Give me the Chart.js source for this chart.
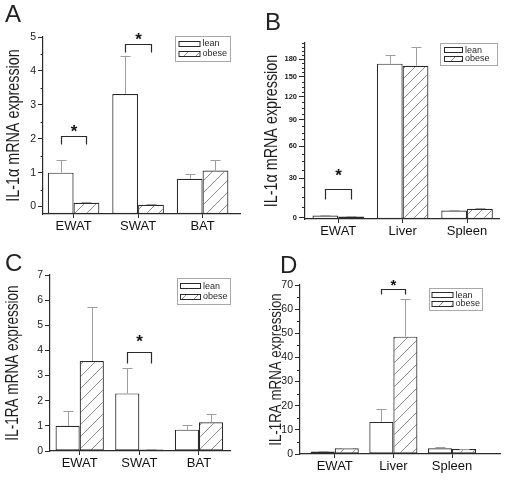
<!DOCTYPE html>
<html>
<head>
<meta charset="utf-8">
<script src="https://cdn.jsdelivr.net/npm/chart.js@4.4.0/dist/chart.umd.min.js"></script>
<style>
  body { margin: 0; background: #fff; }
  #wrap { position: relative; width: 505px; height: 482px; background: #fff; overflow: hidden; }
  #wrap canvas { position: absolute; }
  .letter { position: absolute; font: 24px "Liberation Sans", Arial, sans-serif; line-height: 24px; color: #222; }
</style>
</head>
<body>
<div id="wrap">
  <canvas id="chartA" width="252" height="241" style="left:0;top:0"></canvas>
  <canvas id="chartB" width="253" height="241" style="left:252px;top:0"></canvas>
  <canvas id="chartC" width="252" height="241" style="left:0;top:241px"></canvas>
  <canvas id="chartD" width="253" height="241" style="left:252px;top:241px"></canvas>
  <div class="letter" style="left:5px;top:2px">A</div>
  <div class="letter" style="left:265px;top:10px">B</div>
  <div class="letter" style="left:5px;top:251px">C</div>
  <div class="letter" style="left:280px;top:253px">D</div>
</div>
<script>
// ---- data ----
const fatTissues = ['EWAT', 'SWAT', 'BAT'];
const organTissues = ['EWAT', 'Liver', 'Spleen'];
const groupNames = ['lean', 'obese'];

// A: IL-1a, fat depots
const leanA = [1.0, 3.32, 0.82];
const leanErrA = [1.38, 4.45, 0.95];
const obeseA = [0.11, 0.05, 1.06];
const obeseErrA = [0.14, 0.07, 1.36];
const sigA = [[0, 2.07], [1, 4.8]];
const yTicksA = [0, 1, 2, 3, 4, 5];

// B: IL-1a, organs
const leanB = [1.3, 172, 4.8];
const leanErrB = [1.9, 186.7, 5.2];
const obeseB = [0.6, 168.5, 6.0];
const obeseErrB = [0.8, 202, 6.4];
const sigB = [[0, 21]];
const yTicksB = [0, 30, 60, 90, 120, 150, 180];

// C: IL-1RA, fat depots
const leanC = [1.0, 2.29, 0.85];
const leanErrC = [1.59, 3.31, 1.03];
const obeseC = [3.58, 0.06, 1.14];
const obeseErrC = [5.74, 0.07, 1.46];
const sigC = [[1, 3.93]];
const yTicksC = [0, 1, 2, 3, 4, 5, 6, 7];

// D: IL-1RA, organs
const leanD = [1.0, 13.3, 2.4];
const leanErrD = [1.2, 18.5, 2.9];
const obeseD = [2.4, 48.6, 2.1];
const obeseErrD = [2.6, 64.2, 2.2];
const sigD = [[1, 68.4]];
const yTicksD = [0, 10, 20, 30, 40, 50, 60, 70];

// ---- styling ----
const FONT = '"Liberation Sans", Arial, sans-serif';
const INK = '#2a2a2a';
const ERR = '#9e9e9e';

// panel B uses a compressed (offset log) value axis like the original
const B_AXIS_K = 110;
class OffsetLogScale extends Chart.LinearScale {
    static id = 'offsetLog';
    static defaults = {};
    tf(v) { return Math.log10((v + B_AXIS_K) / B_AXIS_K); }
    getPixelForValue(v) {
        const a = this.tf(this.min), b = this.tf(this.max);
        return this.getPixelForDecimal((this.tf(v) - a) / (b - a));
    }
    getValueForPixel(p) {
        const a = this.tf(this.min), b = this.tf(this.max);
        const d = this.getDecimalForPixel(p);
        return B_AXIS_K * Math.pow(10, a + d * (b - a)) - B_AXIS_K;
    }
}
Chart.register(OffsetLogScale);

// error bars, significance brackets, minor ticks, y title and the boxed legend
function decoPlugin(p) {
    return {
        id: 'deco',
        afterDatasetsDraw(chart) {
            const ctx = chart.ctx;
            const ys = chart.scales.y;
            ctx.save();
            // error bars (upper only)
            ctx.strokeStyle = ERR;
            ctx.lineWidth = 1;
            [p.leanErr, p.obeseErr].forEach((errs, di) => {
                chart.getDatasetMeta(di).data.forEach((bar, i) => {
                    const x = Math.round(bar.x) + 0.5;
                    const yTop = Math.round(ys.getPixelForValue(errs[i])) + 0.5;
                    ctx.beginPath();
                    ctx.moveTo(x, bar.y);
                    ctx.lineTo(x, yTop);
                    ctx.moveTo(x - 5, yTop);
                    ctx.lineTo(x + 5, yTop);
                    ctx.stroke();
                });
            });
            // brackets with stars
            const m0 = chart.getDatasetMeta(0), m1 = chart.getDatasetMeta(1);
            ctx.strokeStyle = INK;
            ctx.lineWidth = 1.2;
            p.sig.forEach(([i, v]) => {
                const x1 = Math.round(m0.data[i].x) + 0.5;
                const x2 = Math.round(m1.data[i].x) + 0.5;
                const y = Math.round(ys.getPixelForValue(v)) + 0.5;
                ctx.beginPath();
                ctx.moveTo(x1, y + p.leg);
                ctx.lineTo(x1, y);
                ctx.lineTo(x2, y);
                ctx.lineTo(x2, y + p.leg);
                ctx.stroke();
                ctx.fillStyle = '#111';
                ctx.font = 'bold ' + p.starSize + 'px ' + FONT;
                ctx.textAlign = 'center';
                ctx.textBaseline = 'alphabetic';
                const m = ctx.measureText('*');
                const mid = (-m.actualBoundingBoxAscent + m.actualBoundingBoxDescent) / 2;
                ctx.fillText('*', (x1 + x2) / 2, y - p.starGap - mid);
            });
            ctx.restore();
        },
        afterDraw(chart) {
            const ctx = chart.ctx;
            const ys = chart.scales.y;
            const area = chart.chartArea;
            ctx.save();
            // minor ticks
            if (p.minorStep) {
                ctx.strokeStyle = INK;
                ctx.lineWidth = 1;
                ctx.beginPath();
                for (let k = Math.ceil(ys.min / p.minorStep); k * p.minorStep <= ys.max + 1e-9; k++) {
                    const v = k * p.minorStep;
                    if (p.yTicks.some(t => Math.abs(t - v) < 1e-9)) continue;
                    const py = Math.round(ys.getPixelForValue(v)) + 0.5;
                    ctx.moveTo(area.left - p.minorLen, py);
                    ctx.lineTo(area.left, py);
                }
                ctx.stroke();
            }
            // y title, set in a narrow face like the original
            ctx.save();
            ctx.translate(p.titleX, (area.top + area.bottom) / 2);
            ctx.rotate(-Math.PI / 2);
            ctx.scale(0.775, 1);
            ctx.fillStyle = '#1e1e1e';
            ctx.font = p.titleSize + 'px ' + FONT;
            ctx.textAlign = 'center';
            ctx.textBaseline = 'middle';
            ctx.fillText(p.title, 0, 0);
            ctx.restore();
            // legend box
            const L = p.legend;
            ctx.strokeStyle = '#a8a8a8';
            ctx.lineWidth = 1;
            ctx.strokeRect(L.x + 0.5, L.y + 0.5, L.w, L.h);
            chart.data.datasets.forEach((ds, i) => {
                const cy = L.y + L.h * (i === 0 ? 0.3 : 0.7);
                const sx = L.x + L.pad;
                const sy = Math.round(cy - 2.5);
                ctx.fillStyle = ds.backgroundColor;
                ctx.fillRect(sx, sy, L.sw, 5);
                ctx.strokeStyle = INK;
                ctx.strokeRect(sx + 0.5, sy + 0.5, L.sw, 5);
                ctx.fillStyle = INK;
                ctx.font = '9px ' + FONT;
                ctx.textAlign = 'left';
                ctx.textBaseline = 'middle';
                ctx.fillText(ds.label, sx + L.sw + 3, cy + 0.5);
            });
            ctx.restore();
        }
    };
}

function hatchPattern(canvas, size) {
    const c = document.createElement('canvas');
    c.width = size; c.height = size;
    const g = c.getContext('2d');
    g.fillStyle = '#fff';
    g.fillRect(0, 0, size, size);
    g.strokeStyle = '#8f8f8f';
    g.lineWidth = 1;
    g.beginPath();
    g.moveTo(0, size); g.lineTo(size, 0);
    g.moveTo(-1, 1); g.lineTo(1, -1);
    g.moveTo(size - 1, size + 1); g.lineTo(size + 1, size - 1);
    g.stroke();
    return canvas.getContext('2d').createPattern(c, 'repeat');
}

function makePanel(id, p) {
    const canvas = document.getElementById(id);
    const W = canvas.width, H = canvas.height;
    const barStyle = {
        borderColor: INK,
        borderWidth: 1.2,
        borderSkipped: false,
        base: p.yMin,
        categoryPercentage: p.catPct,
        barPercentage: 1
    };
    return new Chart(canvas, {
        type: 'bar',
        data: {
            datasets: [
                Object.assign({ label: groupNames[0], backgroundColor: '#fff',
                    data: p.lean.map((v, i) => ({ x: i + 1, y: v })) }, barStyle),
                Object.assign({ label: groupNames[1], backgroundColor: hatchPattern(canvas, p.hatch),
                    data: p.obese.map((v, i) => ({ x: i + 1, y: v })) }, barStyle)
            ]
        },
        options: {
            responsive: false,
            animation: false,
            events: [],
            layout: { padding: { left: 0, top: p.plot.top, right: W - p.plot.right, bottom: 0 } },
            plugins: { legend: { display: false }, tooltip: { enabled: false } },
            scales: {
                x: {
                    type: 'linear',
                    bounds: 'data',
                    offset: false,
                    min: p.xMin,
                    max: p.xMax,
                    afterBuildTicks: s => { s.ticks = p.cats.map((c, i) => ({ value: i + 1 })); },
                    afterFit: s => { s.height = H - p.plot.bottom; },
                    border: { display: true, color: INK, width: 1.2 },
                    grid: { display: true, offset: false, drawOnChartArea: false, drawTicks: true, tickLength: 4, color: INK },
                    ticks: {
                        callback: v => p.cats[v - 1],
                        color: '#111',
                        font: { family: FONT, size: 13 },
                        padding: 1,
                        maxRotation: 0,
                        autoSkip: false
                    }
                },
                y: {
                    type: p.yType,
                    bounds: 'data',
                    min: p.yMin,
                    max: p.yMax,
                    afterBuildTicks: s => { s.ticks = p.yTicks.map(v => ({ value: v })); },
                    afterFit: s => { s.width = p.plot.left; },
                    border: { display: true, color: INK, width: 1.2 },
                    grid: { display: true, drawOnChartArea: false, drawTicks: true, tickLength: p.tickLen, color: INK },
                    ticks: { color: '#1a1a1a', font: p.tickFont, padding: 2, autoSkip: false }
                }
            }
        },
        plugins: [decoPlugin(p)]
    });
}

makePanel('chartA', {
    cats: fatTissues, lean: leanA, obese: obeseA, leanErr: leanErrA, obeseErr: obeseErrA,
    sig: sigA, yTicks: yTicksA, yType: 'linear', yMin: -0.22, yMax: 5,
    xMin: 0.526, xMax: 3.58, catPct: 0.8,
    plot: { left: 43, top: 37, right: 240, bottom: 214 },
    tickLen: 5, minorStep: 0.5, minorLen: 2.5,
    tickFont: { family: FONT, size: 10.5 },
    title: 'IL-1\u03b1 mRNA expression', titleSize: 18.5, titleX: 13.5,
    leg: 8, starGap: 8, starSize: 17, hatch: 12,
    legend: { x: 175, y: 36, w: 55, h: 25, pad: 3.5, sw: 21 }
});

makePanel('chartB', {
    cats: organTissues, lean: leanB, obese: obeseB, leanErr: leanErrB, obeseErr: obeseErrB,
    sig: sigB, yTicks: yTicksB, yType: 'offsetLog', yMin: -1, yMax: 210,
    xMin: 0.484, xMax: 3.496, catPct: 0.8,
    plot: { left: 53, top: 43, right: 247, bottom: 219 },
    tickLen: 6, minorStep: 7.5, minorLen: 3,
    tickFont: { family: FONT, size: 7.5, weight: 'bold' },
    title: 'IL-1\u03b1 mRNA expression', titleSize: 18.5, titleX: 20,
    leg: 10, starGap: 17, starSize: 17, hatch: 10,
    legend: { x: 188, y: 43, w: 57, h: 22, pad: 4, sw: 18 }
});

makePanel('chartC', {
    cats: fatTissues, lean: leanC, obese: obeseC, leanErr: leanErrC, obeseErr: obeseErrC,
    sig: sigC, yTicks: yTicksC, yType: 'linear', yMin: 0, yMax: 7,
    xMin: 0.502, xMax: 3.52, catPct: 0.81,
    plot: { left: 50, top: 34, right: 230, bottom: 210 },
    tickLen: 5, minorStep: 0, minorLen: 0,
    tickFont: { family: FONT, size: 10.5 },
    title: 'IL-1RA mRNA expression', titleSize: 17.5, titleX: 13.5,
    leg: 11, starGap: 14, starSize: 17, hatch: 12,
    legend: { x: 177, y: 37, w: 53, h: 26, pad: 3, sw: 20 }
});

makePanel('chartD', {
    cats: organTissues, lean: leanD, obese: obeseD, leanErr: leanErrD, obeseErr: obeseErrD,
    sig: sigD, yTicks: yTicksD, yType: 'linear', yMin: 0, yMax: 70,
    xMin: 0.408, xMax: 3.818, catPct: 0.82,
    plot: { left: 48, top: 44, right: 248, bottom: 213 },
    tickLen: 5, minorStep: 5, minorLen: 3,
    tickFont: { family: FONT, size: 10.5 },
    title: 'IL-1RA mRNA expression', titleSize: 17.2, titleX: 24,
    leg: 5, starGap: 7, starSize: 15, hatch: 12,
    legend: { x: 177, y: 47, w: 53, h: 22, pad: 2.5, sw: 21 }
});
</script>
</body>
</html>
